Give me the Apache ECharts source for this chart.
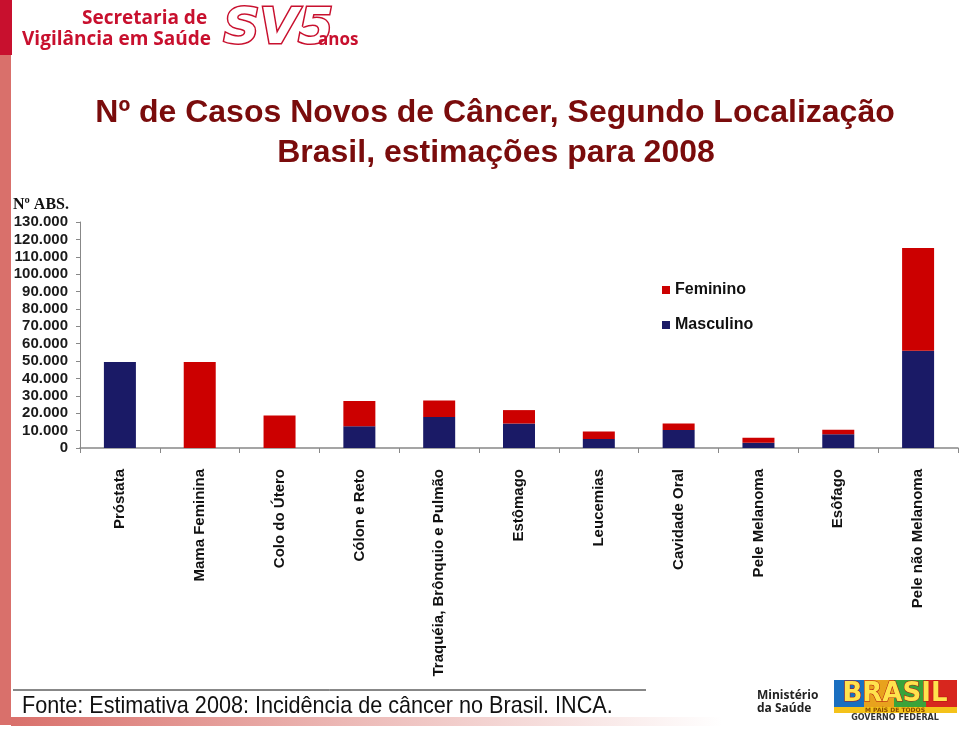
<!DOCTYPE html>
<html>
<head>
<meta charset="utf-8">
<script src="https://cdn.jsdelivr.net/npm/echarts@6/dist/echarts.min.js"></script>
<style>
html,body{margin:0;padding:0;background:#fff;}
#chart{width:960px;height:730px;}
</style>
</head>
<body>
<div id="chart"></div>
<script>
// Data (Nº de casos novos, estimativa 2008)
var categories = ['Próstata','Mama Feminina','Colo do Útero','Cólon e Reto','Traquéia, Brônquio e Pulmão','Estômago','Leucemias','Cavidade Oral','Pele Melanoma','Esôfago','Pele não Melanoma'];
var masculino = [49530, 0, 0, 12490, 17810, 14080, 5220, 10380, 2950, 7900, 55890];
var feminino  = [0, 49400, 18680, 14500, 9460, 7720, 4320, 3780, 2970, 2650, 59120];
var seriesNames = ['Masculino','Feminino'];
var titleLines = ['Nº de Casos Novos de Câncer, Segundo Localização','Brasil, estimações para 2008'];
var yAxisName = 'Nº ABS.';
var sourceText = 'Fonte: Estimativa 2008: Incidência de câncer no Brasil. INCA.';

var chart = echarts.init(document.getElementById('chart'), null, {renderer:'canvas'});
function fmt(v){ return String(v).replace(/\B(?=(\d{3})+(?!\d))/g,'.'); }
var FONT = "'Liberation Sans', Arial, Helvetica, sans-serif";

var option = {
  backgroundColor:'#ffffff',
  animation:false,
  textStyle:{fontFamily:FONT},
  grid:{left:80, top:222, width:878, height:226, containLabel:false},
  legend:{
    orient:'vertical', left:657, top:277, itemGap:19,
    itemWidth:8, itemHeight:8, icon:'rect',
    data:['Feminino','Masculino'],
    textStyle:{fontFamily:FONT, fontWeight:'bold', fontSize:16, color:'#111'}
  },
  xAxis:{
    type:'category', data:categories,
    axisLine:{lineStyle:{color:'#888', width:1.5}},
    axisTick:{show:true, length:5, lineStyle:{color:'#888'}},
    axisLabel:{rotate:90, interval:0, margin:21, fontFamily:FONT, fontWeight:'bold', fontSize:15, color:'#111'}
  },
  yAxis:{
    type:'value', min:0, max:130000, interval:10000,
    splitLine:{show:false},
    axisLine:{show:true, lineStyle:{color:'#888', width:1}},
    axisTick:{show:true, length:4, lineStyle:{color:'#888'}},
    axisLabel:{margin:12, fontFamily:FONT, fontWeight:'bold', fontSize:15, color:'#1a1a1a', formatter:fmt}
  },
  series:[
    {name:seriesNames[0], type:'bar', stack:'t', data:masculino, barWidth:32, itemStyle:{color:'#1a1a66'}},
    {name:seriesNames[1], type:'bar', stack:'t', data:feminino, barWidth:32, itemStyle:{color:'#cc0000'}}
  ],
  graphic:[
    // left stripe
    {type:'rect', shape:{x:0,y:55,width:11,height:670}, style:{fill:'#d9706b'}},
    {type:'rect', shape:{x:0,y:0,width:12,height:55}, style:{fill:'#c8102e'}},
    // bottom stripe gradient
    {type:'rect', shape:{x:11,y:717,width:949,height:9}, style:{fill:new echarts.graphic.LinearGradient(0,0,1,0,[{offset:0,color:'#d9706b'},{offset:0.35,color:'#ecb8b5'},{offset:0.75,color:'#ffffff'}])}},
    // header logo
    {type:'text', left:82, top:9, style:{text:'Secretaria de', font:"bold 19px 'Open Sans', 'Liberation Sans', sans-serif", fill:'#c8102e'}},
    {type:'text', left:22, top:30, style:{text:'Vigilância em Saúde', font:"bold 19px 'Open Sans', 'Liberation Sans', sans-serif", fill:'#c8102e'}},
    {type:'text', left:222, top:4, style:{text:'SV5', font:"italic bold 50px 'DejaVu Sans', sans-serif", fill:'#ffffff', stroke:'#c8102e', lineWidth:3}},
    {type:'text', left:318, top:32, style:{text:'anos', font:"bold 17px 'Open Sans', 'Liberation Sans', sans-serif", fill:'#c8102e'}},
    // titles
    {type:'text', x:495, y:113, style:{text:titleLines[0], font:"bold 32px "+FONT, fill:'#7a0c0c', align:'center', verticalAlign:'middle'}},
    {type:'text', x:496, y:153, style:{text:titleLines[1], font:"bold 32px "+FONT, fill:'#7a0c0c', align:'center', verticalAlign:'middle'}},
    // y axis name
    {type:'text', left:13, top:197, style:{text:yAxisName, font:"bold 16px 'Liberation Serif', 'Times New Roman', serif", fill:'#111'}},
    // footer
    {type:'line', shape:{x1:13,y1:690,x2:646,y2:690}, style:{stroke:'#111', lineWidth:1}},
    {type:'text', x:22, y:706, scaleX:0.9, style:{text:sourceText, font:"24px 'Liberation Sans', Arial, sans-serif", fill:'#111', verticalAlign:'middle'}},
    // ministerio logo
    {type:'text', left:757, top:689, style:{text:'Ministério\nda Saúde', font:"bold 12px 'Open Sans', sans-serif", fill:'#222', lineHeight:13}},
    {type:'rect', shape:{x:834,y:680,width:123,height:27}, style:{fill:'#f4e04a'}},
    {type:'rect', shape:{x:834,y:680,width:30,height:27}, style:{fill:'#1a6fc0'}},
    {type:'rect', shape:{x:864,y:680,width:30,height:27}, style:{fill:'#e8a21d'}},
    {type:'rect', shape:{x:894,y:680,width:32,height:27}, style:{fill:'#3aa33a'}},
    {type:'rect', shape:{x:926,y:680,width:31,height:27}, style:{fill:'#d7261e'}},
    {type:'text', x:895, y:694, style:{text:'BRASIL', font:"bold 26px 'DejaVu Sans', sans-serif", fill:'#ffe34d', stroke:'#b01010', lineWidth:1, align:'center', verticalAlign:'middle'}},
    {type:'rect', shape:{x:834,y:707,width:123,height:6}, style:{fill:'#f4c21a'}},
    {type:'text', x:895, y:710, style:{text:'M PAÍS DE TODOS', font:"bold 6px 'DejaVu Sans', sans-serif", fill:'#8a4a00', align:'center', verticalAlign:'middle'}},
    {type:'text', x:895, y:718, style:{text:'GOVERNO FEDERAL', font:"bold 8px 'DejaVu Sans', sans-serif", fill:'#333', align:'center', verticalAlign:'middle'}}
  ]
};
chart.setOption(option);
</script>
</body>
</html>
